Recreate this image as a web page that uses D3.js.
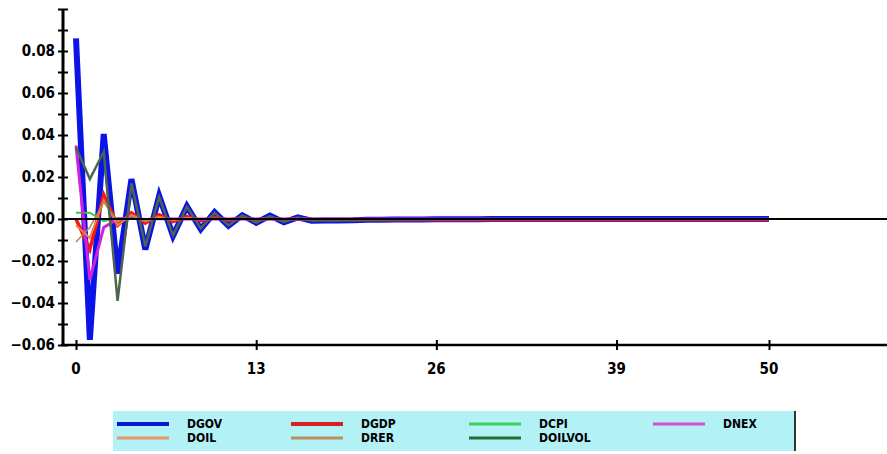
<!DOCTYPE html>
<html>
<head>
<meta charset="utf-8">
<script src="https://cdn.jsdelivr.net/npm/d3@7"></script>
<style>
  body { margin: 0; background: #fff; }
  text { font-family: "Liberation Sans Narrow", "DejaVu Sans", sans-serif; font-stretch: condensed; font-weight: bold; }
</style>
</head>
<body>
<script>
// periods 0..50
var periods = d3.range(0, 51);

var DGOV = [0.086, -0.0575, 0.0405, -0.026, 0.019, -0.0145, 0.011, -0.008, 0.006, -0.0048,
  0.0032, -0.0032, 0.0018, -0.0018, 0.0016, -0.0016, 0.0008, -0.0008, -0.0007, -0.0007,
  -0.0006, -0.0003, -0.0003, -0.0002, -0.0002, -0.0002, -0.0001, -0.0001, -0.0001, -0.0001,
  0, 0, 0, 0, 0, 0, 0, 0, 0, 0,
  0, 0, 0, 0, 0, 0, 0, 0, 0, 0, 0];
var DGDP = [0.0, -0.0145, 0.0115, -0.003, 0.003, -0.002, 0.002, -0.0012, 0.0012, -0.0008,
  0.0008, -0.0005, 0.0005, -0.0004, 0.0003, -0.0003, 0.0002, -0.0002, -0.0003, -0.0003,
  -0.0004, -0.0004, -0.0004, -0.0004, -0.0004, -0.0004, -0.0004, -0.0004, -0.0004, -0.0004,
  -0.0004, -0.0004, -0.0004, -0.0004, -0.0004, -0.0004, -0.0004, -0.0004, -0.0004, -0.0004,
  -0.0004, -0.0004, -0.0004, -0.0004, -0.0004, -0.0004, -0.0004, -0.0004, -0.0004, -0.0004, -0.0004];
var DCPI = [0.003, 0.003, -0.001, 0.0005, 0.0002, 0, 0, 0, 0, 0,
  0, 0, 0, 0, 0, 0, 0, 0, 0, 0,
  0, 0, 0, 0, 0, 0, 0, 0, 0, 0,
  0, 0, 0, 0, 0, 0, 0, 0, 0, 0,
  0, 0, 0, 0, 0, 0, 0, 0, 0, 0, 0];
var DNEX = [0.035, -0.029, -0.004, 0.0, 0.0005, -0.0003, 0.0002, 0, 0, 0,
  0, 0, 0, 0, 0, 0, 0, 0, 0, 0,
  0, 0, 0, 0, 0, 0, 0, 0, 0, 0,
  0, 0, 0, 0, 0, 0, 0, 0, 0, 0,
  0, 0, 0, 0, 0, 0, 0, 0, 0, 0, 0];
var DOIL = [-0.003, -0.009, 0.009, -0.003, 0.002, -0.001, 0.001, -0.0005, 0.0005, 0,
  0, 0, 0, 0, 0, 0, 0, 0, 0, 0,
  0, 0, 0, 0, 0, 0, 0, 0, 0, 0,
  0, 0, 0, 0, 0, 0, 0, 0, 0, 0,
  0, 0, 0, 0, 0, 0, 0, 0, 0, 0, 0];
var DRER = [-0.011, -0.004, 0.008, -0.001, 0.0015, -0.0008, 0.0005, 0, 0, 0,
  0, 0, 0, 0, 0, 0, 0, 0, 0, 0,
  0, 0, 0, 0, 0, 0, 0, 0, 0, 0,
  0, 0, 0, 0, 0, 0, 0, 0, 0, 0,
  0, 0, 0, 0, 0, 0, 0, 0, 0, 0, 0];
var DOILVOL = [0.034, 0.019, 0.032, -0.039, 0.017, -0.013, 0.0105, -0.0078, 0.0058, -0.0045,
  0.003, -0.003, 0.0017, -0.0017, 0.0014, -0.0014, 0.0007, -0.0007, -0.0006, -0.0006,
  -0.0005, -0.0003, -0.0003, -0.0002, -0.0002, -0.0002, -0.0001, -0.0001, -0.0001, -0.0001,
  0, 0, 0, 0, 0, 0, 0, 0, 0, 0,
  0, 0, 0, 0, 0, 0, 0, 0, 0, 0, 0];

var xTicks = [0, 13, 26, 39, 50];
var yLabels = [-0.06, -0.04, -0.02, 0.00, 0.02, 0.04, 0.06, 0.08];
var yMinor = [-0.06, -0.05, -0.04, -0.03, -0.02, -0.01, 0, 0.01, 0.02, 0.03, 0.04, 0.05, 0.06, 0.07, 0.08, 0.09, 0.10];

var series = [
  {name: "DGOV", values: DGOV, color: "#0a14e6", width: 6, legColor: "#0a1ad0", legWidth: 4},
  {name: "DGDP", values: DGDP, color: "#f01818", width: 3.5, legColor: "#d82020", legWidth: 4},
  {name: "DCPI", values: DCPI, color: "#30d040", width: 2, legColor: "#40d060", legWidth: 3},
  {name: "DNEX", values: DNEX, color: "#d020e0", width: 3, legColor: "#d050d0", legWidth: 3},
  {name: "DOIL", values: DOIL, color: "#f08040", width: 2, legColor: "#e89860", legWidth: 3},
  {name: "DRER", values: DRER, color: "#b08850", width: 1.5, legColor: "#b89060", legWidth: 3},
  {name: "DOILVOL", values: DOILVOL, color: "#4e644e", width: 2.5, legColor: "#2a6a30", legWidth: 3}
];

var W = 887, H = 454;

var svg = d3.select("body")
            .append("svg")
            .attr("width", W)
            .attr("height", H);

var xScale = d3.scaleLinear()
              .domain([0, 50])
              .range([76, 769]);

var yScale = d3.scaleLinear()
              .domain([-0.06, 0.10])
              .range([345, 9]);

var line = d3.line()
    .x(function(d, i){ return xScale(periods[i]); })
    .y(function(d){ return yScale(d); });

// series
svg.selectAll("path.series")
    .data(series)
    .enter()
    .append("path")
    .attr("class", "series")
    .attr("fill", "none")
    .attr("stroke", function(d){ return d.color; })
    .attr("stroke-width", function(d){ return d.width; })
    .attr("stroke-linejoin", "miter")
    .attr("d", function(d){ return line(d.values); });

// zero line
svg.append("line")
    .attr("x1", 63).attr("x2", W)
    .attr("y1", yScale(0)).attr("y2", yScale(0))
    .attr("stroke", "#000")
    .attr("stroke-width", 2);

// y axis
var yAxis = d3.axisLeft(yScale)
              .tickValues(yMinor)
              .tickSize(0)
              .tickFormat("");

var gy = svg.append("g")
    .attr("transform", "translate(63,0)")
    .call(yAxis);
gy.select(".domain").remove();
gy.append("line")
    .attr("x1", 0).attr("x2", 0)
    .attr("y1", yScale(0.10)).attr("y2", yScale(-0.06))
    .attr("stroke", "#000").attr("stroke-width", 3);
gy.selectAll(".tick line")
    .attr("x1", -5).attr("x2", 5)
    .attr("stroke", "#000").attr("stroke-width", 2);

svg.selectAll("text.ylab")
    .data(yLabels)
    .enter()
    .append("text")
    .attr("class", "ylab")
    .attr("x", 55)
    .attr("y", function(d){ return yScale(d); })
    .attr("dy", "0.36em")
    .attr("text-anchor", "end")
    .style("font-size", "15px")
    .text(function(d){ return d3.format(".2f")(d).replace("-", "\u2212"); });

// x axis
var xAxis = d3.axisBottom(xScale)
              .tickValues(xTicks)
              .tickSize(0)
              .tickFormat("");
var gx = svg.append("g")
    .attr("transform", "translate(0,345)")
    .call(xAxis);
gx.select(".domain").remove();
gx.append("line")
    .attr("x1", 61).attr("x2", W)
    .attr("y1", 0).attr("y2", 0)
    .attr("stroke", "#000").attr("stroke-width", 2.5);
gx.selectAll(".tick line")
    .attr("y1", -5).attr("y2", 5)
    .attr("stroke", "#000").attr("stroke-width", 2);

svg.selectAll("text.xlab")
    .data(xTicks)
    .enter()
    .append("text")
    .attr("class", "xlab")
    .attr("x", function(d){ return xScale(d); })
    .attr("y", 374)
    .attr("text-anchor", "middle")
    .style("font-size", "15px")
    .text(function(d){ return d; });

// legend
var leg = svg.append("g");
leg.append("rect")
    .attr("x", 113).attr("y", 411)
    .attr("width", 682).attr("height", 40)
    .attr("fill", "#b2f1f6");
leg.append("line")
    .attr("x1", 795).attr("x2", 795)
    .attr("y1", 411).attr("y2", 451)
    .attr("stroke", "#333").attr("stroke-width", 2);

var colX = [117, 291, 469, 653];
var rowY = [424, 438];

var items = leg.selectAll("g.item")
    .data(series)
    .enter()
    .append("g")
    .attr("class", "item")
    .attr("transform", function(d, i){
      return "translate(" + colX[i % 4] + "," + rowY[Math.floor(i / 4)] + ")";
    });

items.append("line")
    .attr("x1", 0).attr("x2", 52)
    .attr("y1", 0).attr("y2", 0)
    .attr("stroke", function(d){ return d.legColor; })
    .attr("stroke-width", function(d){ return d.legWidth; });

items.append("text")
    .attr("x", 70)
    .attr("y", 0)
    .attr("dy", "0.36em")
    .style("font-size", "12px")
    .text(function(d){ return d.name; });
</script>
</body>
</html>
